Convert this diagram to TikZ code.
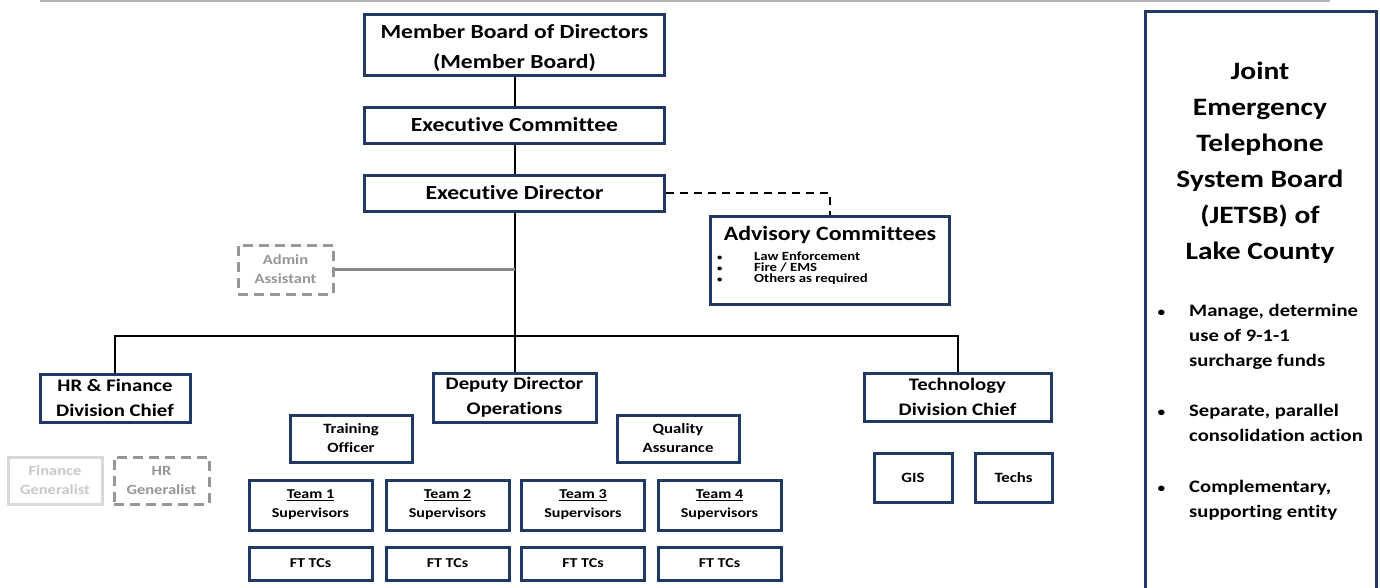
\documentclass[tikz,border=0pt]{standalone}
\usepackage{fontspec}
\setmainfont{Carlito}[FakeStretch=1.18, Ligatures=NoCommon]
\usetikzlibrary{positioning}

\definecolor{navy}{RGB}{31,56,100}
\definecolor{adminGrey}{RGB}{150,150,150}
\definecolor{paleGrey}{RGB}{217,217,217}
\definecolor{paleText}{RGB}{200,200,200}
\definecolor{topLine}{RGB}{180,180,180}

\tikzstyle{box} = [draw=navy, line width=3pt, fill=white, align=center, inner sep=0pt, font=\bfseries]
\tikzstyle{big box} = [box, font=\bfseries\fontsize{20}{29}\selectfont]
\tikzstyle{mid box} = [box, font=\bfseries\fontsize{17.6}{25}\selectfont]
\tikzstyle{small box} = [box, font=\bfseries\fontsize{14.2}{19}\selectfont]
\tikzstyle{team box} = [box, font=\bfseries\fontsize{13.6}{19}\selectfont]
\tikzstyle{grey box} = [draw=adminGrey, text=adminGrey, line width=3pt, dash pattern=on 10pt off 6pt, fill=white, align=center, inner sep=0pt, font=\bfseries\fontsize{14}{19}\selectfont]
\tikzstyle{pale box} = [grey box, draw=paleGrey, text=paleText, solid]
\tikzstyle{edge} = [draw, line width=2pt, black]
\tikzstyle{dotted edge} = [draw, line width=2pt, black, dash pattern=on 8pt off 6pt]
\tikzstyle{grey edge} = [draw, line width=3pt, adminGrey!90!black]
\tikzstyle{duty} = [font=\bfseries\fontsize{17.5}{25}\selectfont, align=left, anchor=north west, inner sep=0pt]

\def\teamCols{{310.5/1}, {447.5/2}, {583/3}, {719.5/4}}
\newcommand{\advItem}{\makebox[37pt][l]{\fontsize{9}{9}\selectfont\textbullet}}
\newcommand{\dutyItem}{\llap{\fontsize{13}{13}\selectfont\textbullet\hspace{24pt}}}

\begin{document}
\begin{tikzpicture}[x=1pt, y=-1pt]
  \useasboundingbox (0,0) rectangle (1380,587);

  \draw[topLine, line width=2.5pt] (40,1) -- (1330,1);

  % top of the chart
  \node[big box, minimum width=300pt, minimum height=61pt] (mb) at (514.5,45) {\rule{0pt}{21pt}Member Board of Directors\\[1pt](Member Board)};
  \node[big box, minimum width=300pt, minimum height=36pt] (ec) at (514.5,125) {Executive Committee};
  \node[big box, minimum width=300pt, minimum height=36pt] (ed) at (514.5,193) {Executive Director};

  \node[box, minimum width=239pt, minimum height=88pt] (adv) at (830,260.5) {};
  \node[font=\bfseries\fontsize{20.3}{24}\selectfont, inner sep=0pt] (advTitle) at (830,235) {Advisory Committees};
  \node[font=\bfseries\fontsize{12.5}{11}\selectfont, align=left, anchor=west, inner sep=0pt] (advList) at (717,268.5)
    {\advItem Law Enforcement\\\advItem Fire / EMS\\\advItem Others as required};

  \node[grey box, minimum width=95pt, minimum height=49pt] (admin) at (285.5,269.5) {Admin\\Assistant};

  % divisions
  \node[mid box, minimum width=150pt, minimum height=48pt] (hr) at (115,398) {HR \& Finance\\Division Chief};
  \node[mid box, minimum width=163pt, minimum height=49pt] (dd) at (514.5,397.5) {Deputy Director\\Operations};
  \node[mid box, minimum width=187pt, minimum height=48pt] (tech) at (957.5,397) {Technology\\Division Chief};

  \node[pale box, minimum width=94pt, minimum height=47pt] (fin) at (55,480.5) {Finance\\Generalist};
  \node[grey box, minimum width=95pt, minimum height=47pt] (hrg) at (161.5,480.5) {HR\\Generalist};

  \node[small box, minimum width=122pt, minimum height=47pt] (train) at (351,438.5) {Training\\Officer};
  \node[small box, minimum width=122pt, minimum height=47pt] (qa) at (678,438.5) {Quality\\Assurance};

  \foreach \x/\n in \teamCols {
    \node[team box, minimum width=123pt, minimum height=50pt] (team\n) at (\x,505) {\underline{Team \n}\\Supervisors};
    \node[team box, minimum width=123pt, minimum height=33pt] (ft\n) at (\x,563.5) {FT TCs};
    }

  \node[small box, minimum width=78pt, minimum height=49pt] (gis) at (913,477.5) {GIS};
  \node[small box, minimum width=77pt, minimum height=49pt] (techs) at (1013.5,477.5) {Techs};

  % connectors
  \coordinate (bus) at (514.5,336);
  \path[edge] (mb) -- (ec);
  \path[edge] (ec) -- (ed);
  \path[edge] (ed) -- (dd);
  \path[edge] (hr.north) |- (bus) -| (tech.north);
  \path[grey edge] (admin.east) -- (admin.east -| ed.south);
  \path[dotted edge] (ed.east) -| (adv.north);

  % side panel
  \draw[navy, line width=3pt] (1145.5,620) -- (1145.5,11.5) -- (1376.5,11.5) -- (1376.5,620);
  \node[font=\bfseries\fontsize{25}{36}\selectfont, align=center, inner sep=0pt] (jetsb) at (1260,163)
    {Joint\\Emergency\\Telephone\\System Board\\(JETSB) of\\Lake County};
  \node[duty] (duty1) at (1189,304) {\dutyItem Manage, determine\\use of 9-1-1\\surcharge funds};
  \node[duty] (duty2) at (1189,404) {\dutyItem Separate, parallel\\consolidation action};
  \node[duty] (duty3) at (1189,480) {\dutyItem Complementary,\\supporting entity};
\end{tikzpicture}
\end{document}
